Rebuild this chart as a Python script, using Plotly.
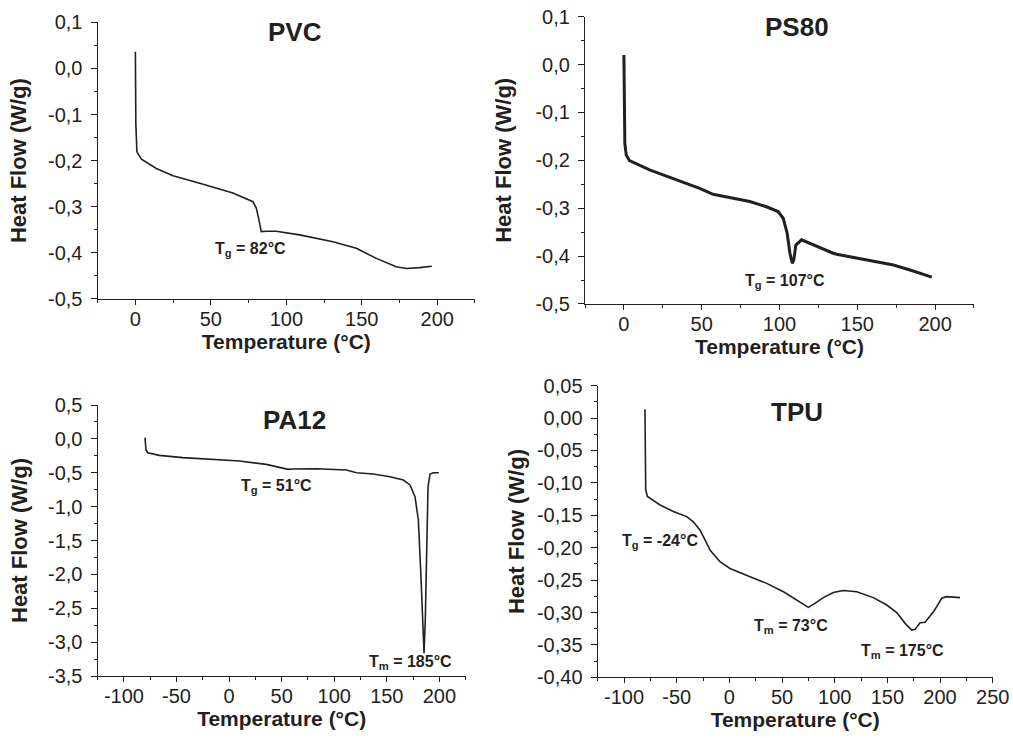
import plotly.graph_objects as go

# --- data ---
pvc_temp = [0, 0.3, 1, 4, 13.9, 24.9, 42.6, 64.6, 77.9, 80.1, 81.9, 83.4, 86.8, 93.3,
            108.8, 130.9, 146.4, 159.6, 172.8, 179.5, 188.3, 196.4]
pvc_flow = [0.036, -0.12, -0.181, -0.197, -0.217, -0.233, -0.249, -0.270, -0.289, -0.303,
            -0.329, -0.354, -0.353, -0.353, -0.361, -0.376, -0.390, -0.412, -0.430, -0.434,
            -0.432, -0.429]

ps80_temp = [0, 0.6, 1.5, 3.6, 16.5, 33.7, 48.7, 57.3, 65.9, 80.9, 91.6, 99.1, 102.4, 104.9,
             106.7, 108.2, 109.2, 110.5, 114.2, 123.8, 134.5, 136.7, 151.7, 173.2, 183.9, 197.9]
ps80_flow = [0.020, -0.1645, -0.189, -0.2007, -0.220, -0.241, -0.2585, -0.271, -0.276, -0.286,
             -0.297, -0.307, -0.321, -0.352, -0.394, -0.415, -0.408, -0.377, -0.366, -0.380,
             -0.394, -0.396, -0.405, -0.4186, -0.429, -0.444]

pa12_temp = [-80, -79, -77.4, -66.3, -44.1, -12.3, 10, 35.4, 48.1, 56, 60.8, 83, 111.6, 121.2,
             137, 153, 165.7, 172, 176.8, 180, 182.2, 184.1, 185.4, 186.6, 187.9, 189.2, 191.1,
             194.3, 199.4]
pa12_flow = [0.018, -0.164, -0.204, -0.243, -0.277, -0.302, -0.327, -0.376, -0.42, -0.45, -0.445,
             -0.44, -0.459, -0.499, -0.518, -0.558, -0.607, -0.68, -0.853, -1.197, -1.935, -2.72,
             -3.165, -2.67, -1.443, -0.705, -0.518, -0.499, -0.499]

tpu_temp = [-80.1, -79.4, -77.8, -75.3, -65.8, -53.2, -40.5, -34.2, -27.8, -23.1, -18.4, -8.9,
            0.6, 19.6, 35.4, 51.3, 63.9, 71.8, 75, 81.3, 89.2, 98.7, 108.2, 120.9, 136.7, 149.4,
            158.9, 166.8, 173.1, 176.3, 181, 185.8, 188.9, 193.7, 196.8, 201.6, 206.3, 218.9]
tpu_flow = [0.0135, -0.111, -0.121, -0.124, -0.134, -0.144, -0.152, -0.160, -0.173, -0.188,
            -0.2035, -0.2215, -0.232, -0.2447, -0.255, -0.268, -0.281, -0.290, -0.292, -0.2858,
            -0.277, -0.269, -0.266, -0.268, -0.277, -0.2884, -0.300, -0.3167, -0.327, -0.326,
            -0.3157, -0.315, -0.309, -0.2987, -0.291, -0.278, -0.2755, -0.277]

# tick labels (comma decimals, as in the original figure)
x_ticks_a = [0, 50, 100, 150, 200]
x_ticks_b = [-100, -50, 0, 50, 100, 150, 200]
x_ticks_c = [-100, -50, 0, 50, 100, 150, 200, 250]
y_ticks_a = [0.1, 0.0, -0.1, -0.2, -0.3, -0.4, -0.5]
y_labels_a = ["0,1", "0,0", "-0,1", "-0,2", "-0,3", "-0,4", "-0,5"]
y_ticks_pa12 = [0.5, 0.0, -0.5, -1.0, -1.5, -2.0, -2.5, -3.0, -3.5]
y_labels_pa12 = ["0,5", "0,0", "-0,5", "-1,0", "-1,5", "-2,0", "-2,5", "-3,0", "-3,5"]
y_ticks_tpu = [0.05, 0.0, -0.05, -0.10, -0.15, -0.20, -0.25, -0.30, -0.35, -0.40]
y_labels_tpu = ["0,05", "0,00", "-0,05", "-0,10", "-0,15", "-0,20", "-0,25", "-0,30",
                "-0,35", "-0,40"]

INK = "#231f20"
FONT = "Liberation Sans"

fig = go.Figure()
fig.add_trace(go.Scatter(x=pvc_temp, y=pvc_flow, mode="lines", line=dict(color=INK, width=1.6),
                         xaxis="x", yaxis="y"))
fig.add_trace(go.Scatter(x=ps80_temp, y=ps80_flow, mode="lines", line=dict(color=INK, width=3),
                         xaxis="x2", yaxis="y2"))
fig.add_trace(go.Scatter(x=pa12_temp, y=pa12_flow, mode="lines", line=dict(color=INK, width=1.6),
                         xaxis="x3", yaxis="y3"))
fig.add_trace(go.Scatter(x=tpu_temp, y=tpu_flow, mode="lines", line=dict(color=INK, width=1.6),
                         xaxis="x4", yaxis="y4"))


def xax(domain, rng, ticks, anchor):
    return dict(domain=domain, range=rng, anchor=anchor, automargin=False,
                tickmode="array", tickvals=ticks, ticktext=[str(t) for t in ticks],
                showline=True, linecolor=INK, linewidth=1.3,
                ticks="outside", ticklen=5, tickwidth=1.3, tickcolor=INK, ticklabelstandoff=-3,
                minor=dict(dtick=25, tick0=0, ticks="outside", ticklen=3, tickcolor=INK),
                showgrid=False, zeroline=False,
                tickfont=dict(family=FONT, size=20, color=INK),
                title=dict(text="Temperature (°C)", standoff=4,
                           font=dict(family=FONT, size=21, color=INK, weight="bold")))


def yax(domain, rng, ticks, labels, minor, anchor, standoff):
    return dict(domain=domain, range=rng, anchor=anchor, automargin=False,
                tickmode="array", tickvals=ticks, ticktext=labels,
                showline=True, linecolor=INK, linewidth=1.3,
                ticks="outside", ticklen=6, tickwidth=1.3, tickcolor=INK, ticklabelstandoff=4,
                minor=dict(dtick=minor, tick0=0, ticks="outside", ticklen=3, tickcolor=INK),
                showgrid=False, zeroline=False,
                tickfont=dict(family=FONT, size=20, color=INK),
                title=dict(text="Heat Flow (W/g)", standoff=standoff,
                           font=dict(family=FONT, size=22, color=INK, weight="bold")))


fig.update_layout(
    width=1013, height=738,
    margin=dict(l=0, r=0, t=0, b=0),
    paper_bgcolor="white", plot_bgcolor="white",
    showlegend=False,
    xaxis=xax([0.0964, 0.4689], [-25, 225], x_ticks_a, "y"),
    yaxis=yax([0.5949, 0.9698], [-0.5, 0.1], y_ticks_a, y_labels_a, 0.05, "x", 15),
    xaxis2=xax([0.5775, 0.9615], [-25, 225], x_ticks_a, "y2"),
    yaxis2=yax([0.5881, 0.9774], [-0.5, 0.1], y_ticks_a, y_labels_a, 0.05, "x2", 17),
    xaxis3=xax([0.0964, 0.4597], [-125, 225], x_ticks_b, "y3"),
    yaxis3=yax([0.0840, 0.4512], [-3.5, 0.5], y_ticks_pa12, y_labels_pa12, 0.25, "x3", 14),
    xaxis4=xax([0.5900, 0.9800], [-125, 250], x_ticks_c, "y4"),
    yaxis4=yax([0.0822, 0.4774], [-0.40, 0.05], y_ticks_tpu, y_labels_tpu, 0.025, "x4", 6),
)

title_font = dict(family=FONT, size=26, color=INK, weight="bold")
note_font = dict(family=FONT, size=16, color=INK, weight="bold")

fig.add_annotation(text="PVC", x=106, y=0.079, xref="x", yref="y", showarrow=False, font=title_font)
fig.add_annotation(text="PS80", x=111.4, y=0.078, xref="x2", yref="y2", showarrow=False, font=title_font)
fig.add_annotation(text="PA12", x=62.4, y=0.279, xref="x3", yref="y3", showarrow=False, font=title_font)
fig.add_annotation(text="TPU", x=64.6, y=0.0099, xref="x4", yref="y4", showarrow=False, font=title_font)

fig.add_annotation(text="T<sub>g</sub> = 82°C", x=76, y=-0.392, xref="x", yref="y",
                   showarrow=False, font=note_font)
fig.add_annotation(text="T<sub>g</sub> = 107°C", x=103.4, y=-0.453, xref="x2", yref="y2",
                   showarrow=False, font=note_font)
fig.add_annotation(text="T<sub>g</sub> = 51°C", x=45.5, y=-0.705, xref="x3", yref="y3",
                   showarrow=False, font=note_font)
fig.add_annotation(text="T<sub>m</sub> = 185°C", x=172.7, y=-3.303, xref="x3", yref="y3",
                   showarrow=False, font=note_font)
fig.add_annotation(text="T<sub>g</sub> = -24°C", x=-65.5, y=-0.1907, xref="x4", yref="y4",
                   showarrow=False, font=note_font)
fig.add_annotation(text="T<sub>m</sub> = 73°C", x=58.5, y=-0.3218, xref="x4", yref="y4",
                   showarrow=False, font=note_font)
fig.add_annotation(text="T<sub>m</sub> = 175°C", x=164.2, y=-0.360, xref="x4", yref="y4",
                   showarrow=False, font=note_font)

# drop the default 8px body margin so the figure fills the window exactly
fig.write_html("out.html", config={"displayModeBar": False},
               post_script="document.body.style.margin = '0';")
